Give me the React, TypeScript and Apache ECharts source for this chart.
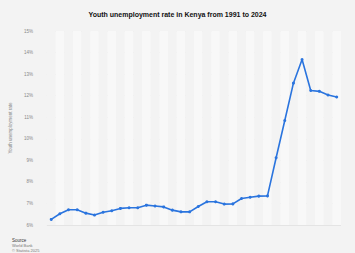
import React, { useEffect, useRef } from "react";
import * as echarts from "echarts";

const years = [
  "1991","1992","1993","1994","1995","1996","1997","1998","1999","2000",
  "2001","2002","2003","2004","2005","2006","2007","2008","2009","2010",
  "2011","2012","2013","2014","2015","2016","2017","2018","2019","2020",
  "2021","2022","2023","2024",
];
const rates = [
  6.26, 6.52, 6.71, 6.71, 6.55, 6.46, 6.59, 6.66, 6.77, 6.8,
  6.8, 6.92, 6.88, 6.84, 6.69, 6.61, 6.61, 6.86, 7.08, 7.08,
  6.97, 6.98, 7.23, 7.29, 7.34, 7.35, 9.12, 10.85, 12.58, 13.68,
  12.24, 12.2, 12.03, 11.94,
];
const titleText = "Youth unemployment rate in Kenya from 1991 to 2024";
const yAxisTitle = "Youth unemployment rate";

export default function App() {
  const ref = useRef<HTMLDivElement>(null);
  useEffect(() => {
    const chart = echarts.init(ref.current!, null, { renderer: "svg" });
    chart.setOption({
      animation: false,
      backgroundColor: "#f3f3f3",
      title: {
        text: titleText,
        left: "center",
        top: 6,
        textStyle: { fontFamily: "Liberation Sans, Arial", fontSize: 7, fontWeight: "bold", color: "#111" },
      },
      grid: { left: 41, right: 14, top: 31, bottom: 28, containLabel: false },
      xAxis: {
        type: "category",
        data: years,
        boundaryGap: true,
        axisLine: { show: false },
        axisTick: { show: false, interval: 0 },
        axisLabel: { show: false, interval: 0 },
        splitArea: { show: true, interval: 0, areaStyle: { color: ["#f3f3f3", "#f8f8f8"] } },
      },
      yAxis: {
        type: "value",
        min: 6,
        max: 15,
        interval: 1,
        name: yAxisTitle,
        nameLocation: "middle",
        nameGap: 20,
        nameTextStyle: { fontFamily: "Liberation Sans, Arial", fontSize: 4.5, color: "#888" },
        axisLine: { show: false },
        axisTick: { show: false },
        axisLabel: {
          formatter: "{value}%",
          fontFamily: "Liberation Sans, Arial",
          fontSize: 4.5,
          color: "#888",
          margin: 14,
        },
        splitLine: { lineStyle: { color: "#dcdcdc", width: 0.7 } },
      },
      series: [
        {
          type: "line",
          data: rates,
          symbol: "circle",
          symbolSize: 3,
          itemStyle: { color: "#2a74de" },
          lineStyle: { color: "#2a74de", width: 1.6 },
        },
      ],
      graphic: [
        { type: "text", left: 12, top: 238, style: { text: "Source", fontFamily: "Liberation Sans, Arial", fontSize: 4.5, fill: "#333" } },
        { type: "text", left: 12, top: 243.5, style: { text: "World Bank", fontFamily: "Liberation Sans, Arial", fontSize: 4, fill: "#777" } },
        { type: "text", left: 12, top: 248, style: { text: "© Statista 2025", fontFamily: "Liberation Sans, Arial", fontSize: 4, fill: "#777" } },
      ],
    });
    return () => chart.dispose();
  }, []);
  return <div ref={ref} style={{ width: 355, height: 253, position: "absolute", left: 0, top: 0 }} />;
}
